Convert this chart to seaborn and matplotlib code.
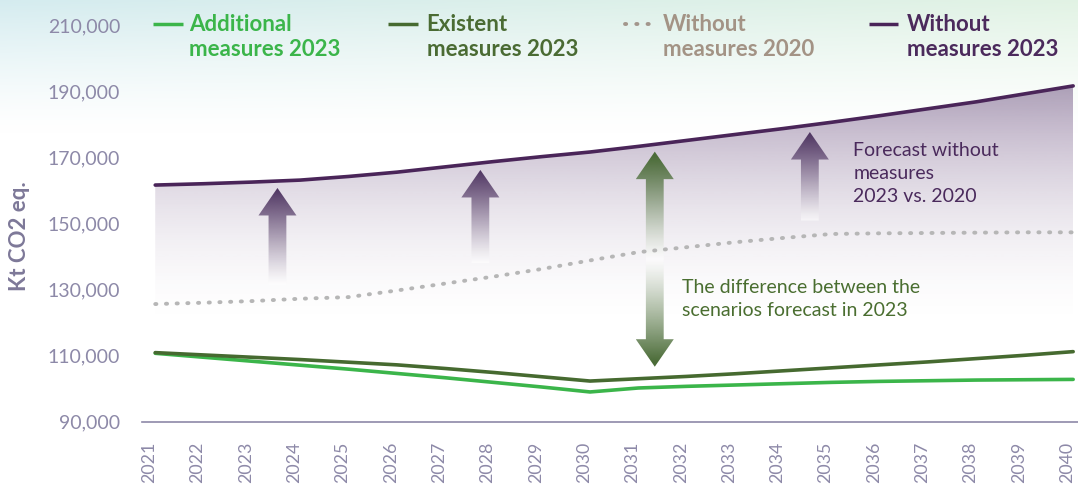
import numpy as np
import pandas as pd
import matplotlib
matplotlib.use("Agg")
import matplotlib.pyplot as plt
import matplotlib.transforms as mtransforms
import seaborn as sns
from matplotlib.patches import Polygon
from matplotlib.lines import Line2D
from matplotlib.colors import to_rgb

# ---------------------------------------------------------------- data
years = list(range(2021, 2041))
additional_2023 = [110700, 109500, 108300, 107100, 105900, 104600, 103300, 101900, 100500, 99000,
                   100200, 100700, 101100, 101500, 101900, 102200, 102400, 102600, 102700, 102800]
existent_2023 = [110900, 110200, 109500, 108800, 108000, 107200, 106100, 104900, 103600, 102300,
                 103000, 103700, 104500, 105400, 106300, 107200, 108100, 109100, 110100, 111200]
without_2020 = [125600, 126000, 126500, 127200, 127700, 129700, 131800, 133900, 136200, 138800,
                141300, 142800, 144300, 145600, 146800, 147000, 147100, 147200, 147300, 147300]
without_2023 = [161600, 162000, 162500, 163100, 164200, 165500, 167100, 168700, 170200, 171600,
                173300, 175100, 176900, 178700, 180600, 182600, 184700, 186800, 189200, 191600]

legend_first = ["Additional", "Existent", "Without", "Without"]
legend_second = ["measures 2023", "measures 2023", "measures 2020", "measures 2023"]
y_ticks = [90000, 110000, 130000, 150000, 170000, 190000, 210000]
y_title = "Kt CO2 eq."
note_top = ["Forecast without", "measures", "2023 vs. 2020"]
note_mid = ["The difference between the", "scenarios forecast in 2023"]

# years where the explanatory arrows stand
purple_arrow_years = [2023.53, 2027.73, 2034.55]
green_arrow_year = 2031.34

# ---------------------------------------------------------------- style
C_ADD = "#3bb54a"
C_EXI = "#466a30"
C_W20 = "#b6b6b6"
C_W23 = "#4a2559"
TXT_ADD = "#3bb54a"
TXT_EXI = "#4a6b33"
TXT_W20 = "#a39385"
TXT_W23 = "#4b2a5c"
AXIS_C = "#8d89a8"

sns.set_theme(style="white")
plt.rcParams["font.family"] = ["Lato", "DejaVu Sans"]

W, H = 1078, 488
fig = plt.figure(figsize=(W / 100, H / 100), dpi=100)


def fx(px):
    return px / W


def fy(py):
    return 1 - py / H


# soft tinted band across the top of the figure
bg = fig.add_axes([0, 0, 1, 1], zorder=-10)
rows, cols = 240, 320
yy = np.linspace(0, 1, rows)[:, None, None]
xx = np.linspace(0, 1, cols)[None, :, None]
c_left = np.array([0.835, 0.925, 0.94])
c_right = np.array([0.885, 0.952, 0.895])
tint = c_left * (1 - xx) + c_right * xx
fade = np.clip(1 - yy / 0.27, 0, 1) ** 1.3
bg.imshow(1 - (1 - tint) * fade, aspect="auto", extent=[0, 1, 0, 1], origin="upper")
bg.set_axis_off()

ax = fig.add_axes([fx(141.7), fy(421.7), fx(1078 - 141.7), (421.7 - 25.1) / H])
ax.set_facecolor("none")

XLIM = (2020.72, 2040.10)
YLIM = (90000, 210000)

# ---------------------------------------------------------------- gradient area under the 2023 baseline scenario
fill_base = 117500
fill_top = max(without_2023)
verts = list(zip(years, without_2023)) + [(years[-1], fill_base), (years[0], fill_base)]
area = Polygon(verts, closed=True, facecolor="none", edgecolor="none", transform=ax.transData)
ax.add_patch(area)
n = 400
t = np.linspace(0, 1, n)
rgba = np.zeros((n, 1, 4))
rgba[..., :3] = np.array([88, 55, 110]) / 255
rgba[:, 0, 3] = 0.47 * t ** 1.8
im = ax.imshow(rgba, extent=[years[0], years[-1], fill_base, fill_top], origin="lower",
               aspect="auto", zorder=1, interpolation="bilinear")
im.set_clip_path(area)

# ---------------------------------------------------------------- arrows
px_year = (1073 - 155.3) / 19
px_val = 3.305 / 1000
SW = 8.9 / px_year          # shaft half width (years)
HW = 19.0 / px_year         # head half width (years)
HL = 27.5 / px_val          # head length (value units)


def shaded_arrow(x, y0, y1, color, double=False):
    if double:
        pts = [(x, y0), (x - HW, y0 + HL), (x - SW, y0 + HL), (x - SW, y1 - HL), (x - HW, y1 - HL),
               (x, y1), (x + HW, y1 - HL), (x + SW, y1 - HL), (x + SW, y0 + HL), (x + HW, y0 + HL)]
    else:
        pts = [(x - SW, y0), (x - SW, y1 - HL), (x - HW, y1 - HL), (x, y1),
               (x + HW, y1 - HL), (x + SW, y1 - HL), (x + SW, y0)]
    poly = Polygon(pts, closed=True, facecolor="none", edgecolor="none", transform=ax.transData)
    ax.add_patch(poly)
    s = np.linspace(0, 1, 300)
    if double:
        a = np.clip(np.abs(s - 0.5) * 2.1, 0, 1) ** 1.2
    else:
        a = s ** 1.2
    rgb = np.array(to_rgb(color))
    # pale core underneath, coloured gradient on top
    base = np.ones((len(s), 1, 4))
    base[:, 0, 3] = 0.55 * (1 - a)
    top = np.ones((len(s), 1, 4))
    top[:, 0, :3] = rgb
    top[:, 0, 3] = a
    for img in (base, top):
        im_a = ax.imshow(img, extent=[x - HW, x + HW, y0, y1], origin="lower", aspect="auto",
                         zorder=2, interpolation="bilinear")
        im_a.set_clip_path(poly)


for xa in purple_arrow_years:
    tip = np.interp(xa, years, without_2023) - 2100
    foot = np.interp(xa, years, without_2020) + 4600
    shaded_arrow(xa, foot, tip, "#4e3461")

g_top = np.interp(green_arrow_year, years, without_2023) - 2200
g_bottom = np.interp(green_arrow_year, years, existent_2023) + 3400
shaded_arrow(green_arrow_year, g_bottom, g_top, "#4b6c38", double=True)

# ---------------------------------------------------------------- scenario lines
frames = {
    "add": (additional_2023, C_ADD),
    "exi": (existent_2023, C_EXI),
    "w23": (without_2023, C_W23),
}
for key, (vals, col) in frames.items():
    df = pd.DataFrame({"year": years, "value": vals})
    sns.lineplot(data=df, x="year", y="value", ax=ax, color=col, linewidth=2.6,
                 zorder=4, solid_capstyle="round", solid_joinstyle="round")

df20 = pd.DataFrame({"year": years, "value": without_2020})
sns.lineplot(data=df20, x="year", y="value", ax=ax, color=C_W20, linewidth=2.8, zorder=3)
dotted = ax.lines[-1]
dotted.set_linestyle((0, (0.3, 2.45)))
dotted.set_dash_capstyle("round")

# ---------------------------------------------------------------- axes
ax.set_xlim(*XLIM)
ax.set_ylim(*YLIM)
ax.set_xlabel("")
ax.set_ylabel("")
ax.set_xticks(years)
ax.set_xticklabels([str(y) for y in years], rotation=90, fontsize=12.8, color=AXIS_C)
ax.set_yticks(y_ticks)
ax.set_yticklabels([f"{v:,}" for v in y_ticks], fontsize=14, color=AXIS_C)
ax.tick_params(axis="x", length=0, pad=14.4)
ax.tick_params(axis="y", length=0, pad=15.6)
for side in ("left", "top", "right"):
    ax.spines[side].set_visible(False)
ax.spines["bottom"].set_color(AXIS_C)
ax.spines["bottom"].set_linewidth(1.2)
ax.grid(False)

shift = mtransforms.ScaledTranslation(-6 / 100, 0, fig.dpi_scale_trans)
for lbl in ax.get_xticklabels():
    lbl.set_transform(lbl.get_transform() + shift)

fig.text(fx(20), fy(236), y_title, rotation=90, ha="center", va="center",
         fontsize=16, fontweight="bold", color="#7d7898")

# ---------------------------------------------------------------- legend
handles_px = [(152.7, 182.7), (388.3, 418.3), (625.0, 652.0), (869.3, 898.3)]
text_px = [189.3, 426.7, 662.7, 906.7]
line_cols = [C_ADD, C_EXI, "#a3968c", C_W23]
txt_cols = [TXT_ADD, TXT_EXI, TXT_W20, TXT_W23]
for i in range(4):
    h0, h1 = handles_px[i]
    ln = Line2D([fx(h0), fx(h1)], [fy(23.7)] * 2, transform=fig.transFigure,
                color=line_cols[i], lw=2.5, solid_capstyle="butt")
    if i == 2:
        ln.set_linestyle((0, (0.3, 2.6)))
        ln.set_dash_capstyle("round")
        ln.set_linewidth(2.8)
    fig.add_artist(ln)
    fig.text(fx(text_px[i]), fy(30.7), legend_first[i], ha="left", va="baseline",
             fontsize=16, fontweight="bold", color=txt_cols[i])
    fig.text(fx(text_px[i]), fy(56.3), legend_second[i], ha="left", va="baseline",
             fontsize=16, fontweight="bold", color=txt_cols[i])

# ---------------------------------------------------------------- notes
for k, line in enumerate(note_top):
    fig.text(fx(853.3), fy(156 + 22.8 * k), line, ha="left", va="baseline",
             fontsize=14, color="#4a2a5c")
for k, line in enumerate(note_mid):
    fig.text(fx(681.7), fy(292.7 + 23 * k), line, ha="left", va="baseline",
             fontsize=14, color="#4a6e30")

fig.savefig("out.png", dpi=100)
